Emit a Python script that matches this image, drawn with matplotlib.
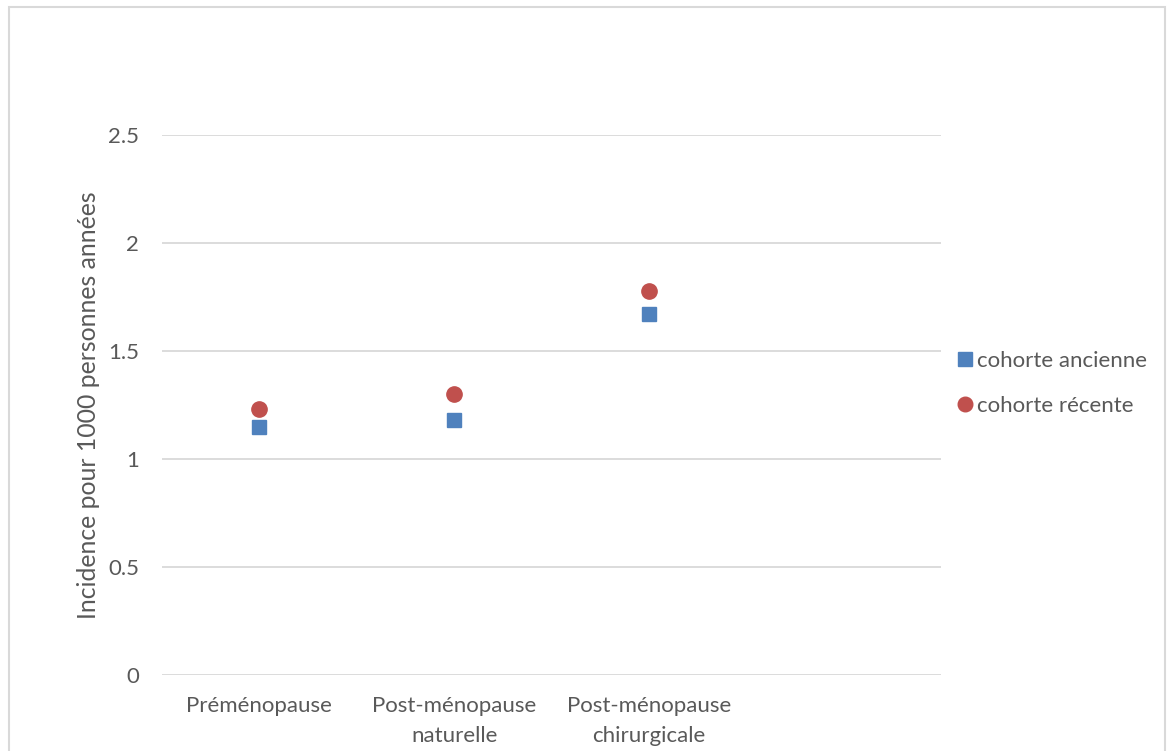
import matplotlib
matplotlib.use("Agg")
import matplotlib.pyplot as plt
from matplotlib.patches import Rectangle
from matplotlib.lines import Line2D

categories = ["Préménopause", "Post-ménopause\nnaturelle", "Post-ménopause\nchirurgicale"]
cohorte_ancienne = [1.15, 1.18, 1.67]
cohorte_recente = [1.23, 1.30, 1.78]
yticks = [0, 0.5, 1, 1.5, 2, 2.5]
ytick_labels = ["0", "0.5", "1", "1.5", "2", "2.5"]

plt.rcParams['font.family'] = ['Lato', 'DejaVu Sans']
W, H = 1167, 751
fig = plt.figure(figsize=(W/100, H/100), dpi=100)
fig.patch.set_facecolor("white")

# outer chart border
fig.patches.append(Rectangle((9/W, 0 - 5/H), (1165-9)/W, (H-7+5)/H, transform=fig.transFigure,
                             fill=False, edgecolor="#d9d9d9", linewidth=1.5))

ax = fig.add_axes([162/W, 1-675/H, (941-162)/W, (675-135)/H])
x = list(range(1, len(categories)+1))
blue = "#4f81bd"
red = "#c0504d"
ax.plot(x, cohorte_ancienne, linestyle="none", marker="s", markersize=10.5, color=blue)
ax.plot(x, cohorte_recente, linestyle="none", marker="o", markersize=11, color=red)

ax.set_xlim(0.5, 4.5)
ax.set_ylim(0, 2.5)
ax.set_yticks(yticks)
ax.set_yticklabels(ytick_labels)
ax.set_xticks(x)
ax.set_xticklabels(categories, linespacing=1.65)
for s in ax.spines.values():
    s.set_visible(False)
ax.grid(axis="y", color="#d9d9d9", linewidth=1.3)
ax.set_axisbelow(True)
ax.tick_params(axis="both", length=0, labelsize=16, colors="#595959")
ax.tick_params(axis="y", pad=16.5)
ax.tick_params(axis="x", pad=15)
ax.set_ylabel("Incidence pour 1000 personnes années", fontsize=17.8, color="#595959", labelpad=6)

handles = [Line2D([], [], linestyle="none", marker="s", markersize=10, color=blue),
           Line2D([], [], linestyle="none", marker="o", markersize=10.5, color=red)]
leg = fig.legend(handles, ["cohorte ancienne", "cohorte récente"], loc="upper left",
                 bbox_to_anchor=(947/W, 1-340/H), frameon=False, fontsize=16,
                 handlelength=0.6, handletextpad=0.25, labelspacing=1.1, borderpad=0)
for t in leg.get_texts():
    t.set_color("#595959")

fig.savefig("out.png", dpi=100)
